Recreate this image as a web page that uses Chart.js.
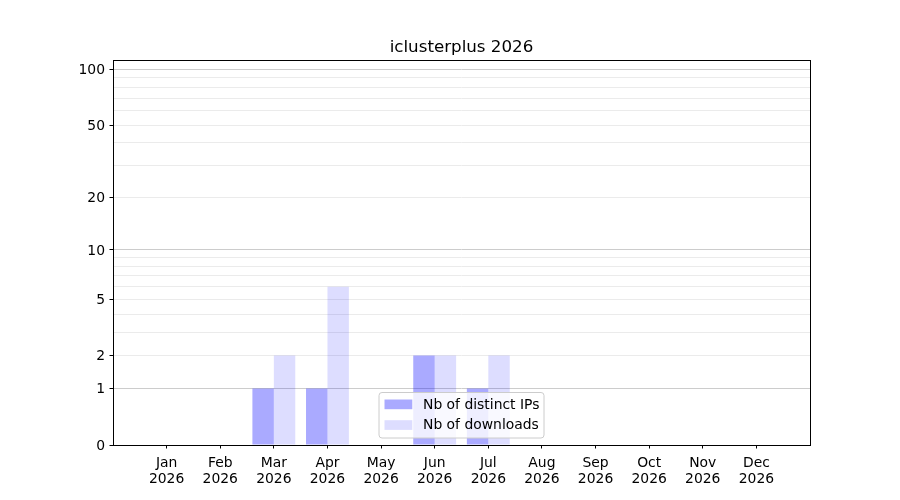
<!DOCTYPE html>
<html>
<head>
<meta charset="utf-8">
<script src="https://cdn.jsdelivr.net/npm/chart.js@4/dist/chart.umd.min.js"></script>
<style>
  html, body { margin: 0; padding: 0; background: #ffffff; }
  #wrap { width: 900px; height: 500px; }
</style>
</head>
<body>
<div id="wrap"><canvas id="c" width="900" height="500"></canvas></div>
<script>
// ---- data ----
const chartTitle = 'iclusterplus 2026';
const months = ['Jan','Feb','Mar','Apr','May','Jun','Jul','Aug','Sep','Oct','Nov','Dec'];
const yearLabel = '2026';
const distinctIPs = [0, 0, 1, 1, 0, 2, 1, 0, 0, 0, 0, 0];
const downloads   = [0, 0, 2, 6, 0, 2, 2, 0, 0, 0, 0, 0];
const seriesNames = ['Nb of distinct IPs', 'Nb of downloads'];
const yTickValues = [0, 1, 2, 3, 4, 5, 6, 7, 8, 9, 10, 20, 30, 40, 50, 60, 70, 80, 90, 100];
const yTickLabels = [0, 1, 2, 5, 10, 20, 50, 100];
const yMajorGrid  = [1, 10, 100];
const yMax = 112.5;

const FONT = "'DejaVu Sans', 'Liberation Sans', sans-serif";
const colIPs = 'rgba(0,0,255,0.333)';
const colDl  = 'rgba(0,0,255,0.133)';

// ---- custom log(1+x) scale (matplotlib-like symlog look) ----
class Log1pScale extends Chart.Scale {
  static id = 'log1p';
  static defaults = {};
  parse(raw) { return (raw === null || raw === undefined) ? null : +raw; }
  determineDataLimits() {
    const { min, max } = this.getMinMax(true);
    this.min = this.options.min ?? Math.max(0, min);
    this.max = this.options.max ?? max;
  }
  buildTicks() { return yTickValues.map(v => ({ value: v })); }
  getLabelForValue(v) { return String(v); }
  configure() {
    super.configure();
    this._lstart = Math.log10(1 + this.min);
    this._lrange = Math.log10(1 + this.max) - this._lstart;
  }
  getPixelForValue(v) {
    if (v === null || v === undefined || isNaN(v)) return NaN;
    return this.getPixelForDecimal((Math.log10(1 + Math.max(v, 0)) - this._lstart) / this._lrange);
  }
  getValueForPixel(p) {
    return Math.pow(10, this._lstart + this.getDecimalForPixel(p) * this._lrange) - 1;
  }
}
Chart.register(Log1pScale);

const frameAndLegend = {
  id: 'frameAndLegend',
  afterDatasetsDraw(chart) {
    const { ctx, chartArea: a } = chart;
    ctx.save();
    ctx.strokeStyle = '#000000';
    ctx.lineWidth = 1;
    ctx.strokeRect(Math.round(a.left) + 0.5, Math.round(a.top) + 0.5,
                   Math.round(a.right - a.left), Math.round(a.bottom - a.top));
    ctx.restore();
  },
  afterDraw(chart) {
    const { ctx, chartArea: a } = chart;
    ctx.save();
    // title
    ctx.fillStyle = '#000000';
    ctx.font = '16.7px ' + FONT;
    ctx.textAlign = 'center';
    ctx.textBaseline = 'alphabetic';
    ctx.fillText(chartTitle, (a.left + a.right) / 2, a.top - 8.5);

    // legend box
    const lx = a.left + 266, ly = a.bottom - 52.5, lw = 165, lh = 45.5, r = 3;
    ctx.beginPath();
    ctx.moveTo(lx + r, ly);
    ctx.lineTo(lx + lw - r, ly);
    ctx.arcTo(lx + lw, ly, lx + lw, ly + r, r);
    ctx.lineTo(lx + lw, ly + lh - r);
    ctx.arcTo(lx + lw, ly + lh, lx + lw - r, ly + lh, r);
    ctx.lineTo(lx + r, ly + lh);
    ctx.arcTo(lx, ly + lh, lx, ly + lh - r, r);
    ctx.lineTo(lx, ly + r);
    ctx.arcTo(lx, ly, lx + r, ly, r);
    ctx.closePath();
    ctx.fillStyle = 'rgba(255,255,255,0.8)';
    ctx.fill();
    ctx.strokeStyle = '#cccccc';
    ctx.lineWidth = 1;
    ctx.stroke();

    const cols = [colIPs, colDl];
    ctx.font = '13.9px ' + FONT;
    ctx.textAlign = 'left';
    ctx.textBaseline = 'middle';
    seriesNames.forEach((name, i) => {
      const hy = ly + 7 + i * 20.7;
      ctx.fillStyle = cols[i];
      ctx.fillRect(lx + 5.5, hy, 27.8, 9.7);
      ctx.fillStyle = '#000000';
      ctx.fillText(name, lx + 44, hy + 5.5);
    });
    ctx.restore();
  }
};

const ds = (vals) => vals.map((v, i) => ({ x: i, y: v }));

new Chart(document.getElementById('c'), {
  type: 'bar',
  data: {
    datasets: [
      { label: seriesNames[0], data: ds(distinctIPs), backgroundColor: colIPs, borderWidth: 0,
        categoryPercentage: 0.8, barPercentage: 1.0 },
      { label: seriesNames[1], data: ds(downloads), backgroundColor: colDl, borderWidth: 0,
        categoryPercentage: 0.8, barPercentage: 1.0 }
    ]
  },
  options: {
    responsive: false,
    devicePixelRatio: 1,
    animation: false,
    layout: { padding: { top: 60, right: 90, bottom: 0, left: 0 } },
    plugins: {
      legend: { display: false },
      title: { display: false },
      tooltip: { enabled: false }
    },
    scales: {
      x: {
        type: 'linear',
        min: -1,
        max: 12,
        offset: false,
        grid: { display: true, offset: false, drawOnChartArea: false, drawTicks: true,
                tickLength: 3.5, tickColor: '#000000', lineWidth: 1 },
        border: { display: false },
        afterBuildTicks: (s) => { s.ticks = months.map((m, i) => ({ value: i })); },
        afterFit: (s) => { s.height = 55; },
        ticks: {
          autoSkip: false,
          maxRotation: 0,
          padding: 6.5,
          color: '#000000',
          font: { family: FONT, size: 13.9, lineHeight: 1.15 },
          callback: (v) => [months[v], yearLabel]
        }
      },
      y: {
        type: 'log1p',
        min: 0,
        max: yMax,
        grid: {
          display: true,
          drawTicks: true,
          tickLength: 3.5,
          lineWidth: 1,
          color: (c) => yMajorGrid.includes(c.tick && c.tick.value) ? '#cccccc' : '#ebebeb',
          tickColor: (c) => yTickLabels.includes(c.tick && c.tick.value) ? '#000000' : 'rgba(0,0,0,0)'
        },
        border: { display: false },
        afterFit: (s) => { s.width = 113; },
        ticks: {
          autoSkip: false,
          padding: 4.5,
          labelOffset: 1,
          color: '#000000',
          font: { family: FONT, size: 13.9 },
          callback: (v) => yTickLabels.includes(v) ? String(v) : ''
        }
      }
    }
  },
  plugins: [frameAndLegend]
});
</script>
</body>
</html>
